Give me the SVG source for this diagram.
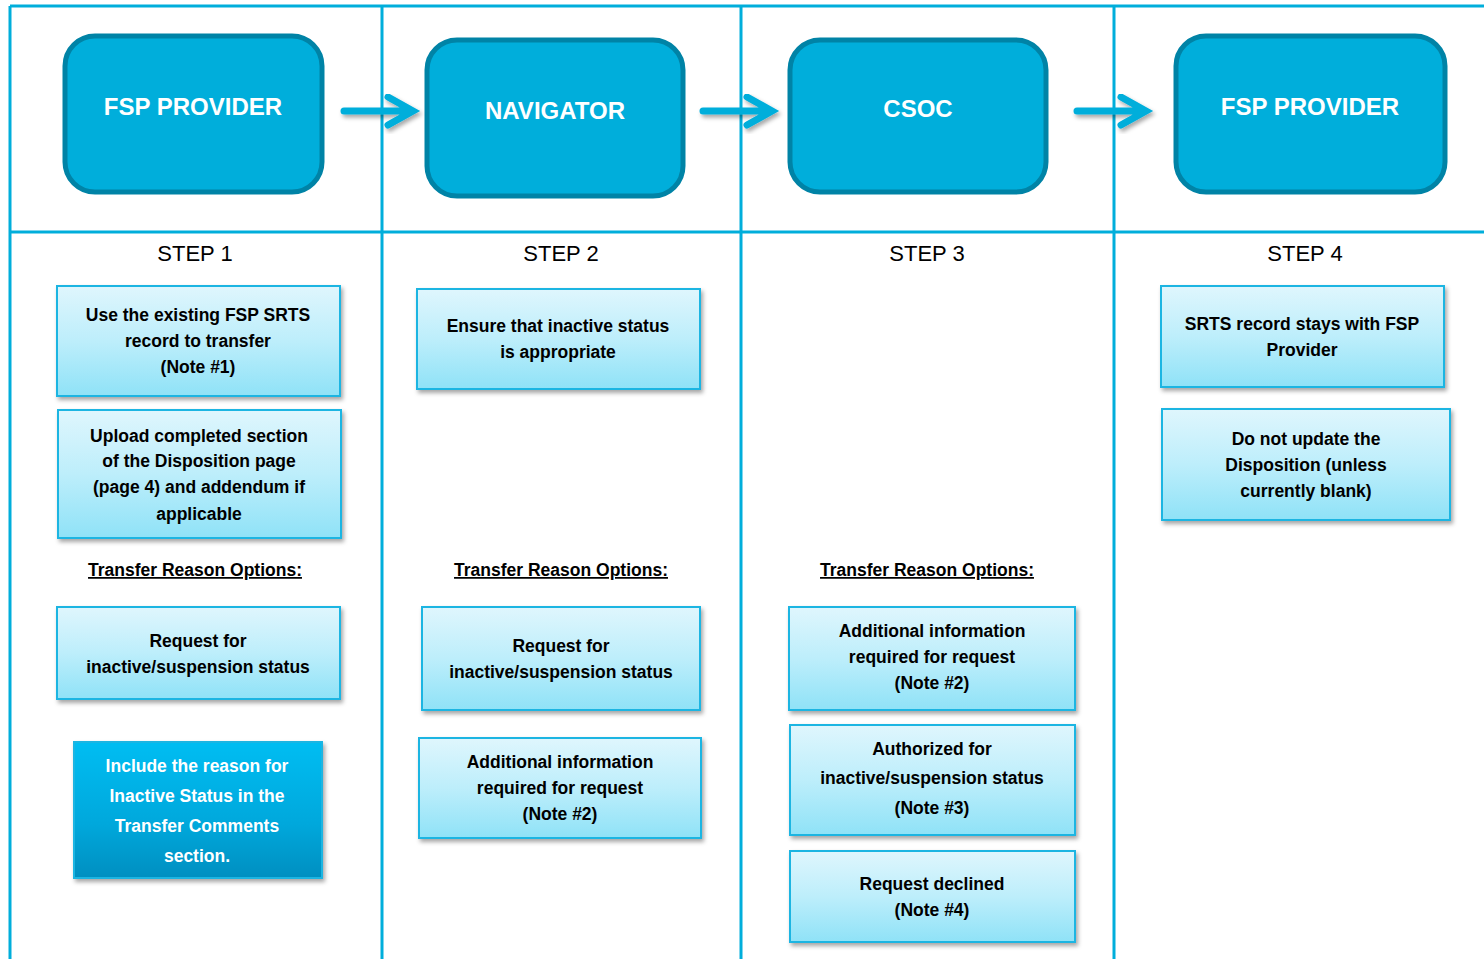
<svg xmlns="http://www.w3.org/2000/svg" width="1484" height="959" viewBox="0 0 1484 959">
<style>
.grid{stroke:#00AEDB;stroke-width:3;fill:none}
.big{fill:#00AEDB;stroke:#0083A6;stroke-width:5}
.bigt{font-family:"Liberation Sans",Arial,sans-serif;font-weight:bold;font-size:24px;fill:#fff;text-anchor:middle}
.step{font-family:"Liberation Sans",Arial,sans-serif;font-size:22px;fill:#000;text-anchor:middle}
.lb{fill:url(#lg);stroke:#1FB5E2;stroke-width:2;filter:url(#sh)}
.db{fill:url(#dg);stroke:#1FB5E2;stroke-width:2;filter:url(#sh)}
.t{font-family:"Liberation Sans",Arial,sans-serif;font-weight:bold;font-size:17.5px;fill:#000;text-anchor:middle}
.tw{font-family:"Liberation Sans",Arial,sans-serif;font-weight:bold;font-size:17.5px;fill:#fff;text-anchor:middle}
.u{text-decoration:underline}
.arr{fill:none;stroke:#00AEDB;stroke-width:7;stroke-linecap:round;stroke-linejoin:miter;filter:url(#sh)}
</style>
<defs>
<linearGradient id="lg" x1="0" y1="0" x2="0" y2="1">
<stop offset="0" stop-color="#DFF6FD"/>
<stop offset="0.5" stop-color="#BDEEFB"/>
<stop offset="1" stop-color="#8FE2F7"/>
</linearGradient>
<linearGradient id="dg" x1="0" y1="0" x2="0" y2="1">
<stop offset="0" stop-color="#00BDF2"/>
<stop offset="0.6" stop-color="#00A8DC"/>
<stop offset="1" stop-color="#008FC0"/>
</linearGradient>
<filter id="sh" x="-10%" y="-10%" width="130%" height="140%">
<feDropShadow dx="2" dy="3" stdDeviation="2" flood-color="#000" flood-opacity="0.35"/>
</filter>
</defs>
<rect width="1484" height="959" fill="#fff"/>
<g id="grid">
<line class="grid" x1="10" y1="6" x2="1484" y2="6"/>
<line class="grid" x1="10" y1="6" x2="10" y2="959"/>
<line class="grid" x1="10" y1="232" x2="1484" y2="232"/>
<line class="grid" x1="382" y1="6" x2="382" y2="959"/>
<line class="grid" x1="741" y1="6" x2="741" y2="959"/>
<line class="grid" x1="1114" y1="6" x2="1114" y2="959"/>
</g>
<g id="n1"><rect class="big" x="65" y="36" width="257" height="156" rx="30"/><text class="bigt" x="193" y="115">FSP PROVIDER</text></g>
<g id="n2"><rect class="big" x="427" y="40" width="256" height="156" rx="30"/><text class="bigt" x="555" y="119">NAVIGATOR</text></g>
<g id="n3"><rect class="big" x="790" y="40" width="256" height="152" rx="30"/><text class="bigt" x="918" y="117">CSOC</text></g>
<g id="n4"><rect class="big" x="1176" y="36" width="269" height="156" rx="30"/><text class="bigt" x="1310" y="115">FSP PROVIDER</text></g>
<g id="connectors">
<path class="arr" d="M344 111 H410 M388 97 L413 111 L388 125"/>
<path class="arr" d="M703 111 H769 M747 97 L772 111 L747 125"/>
<path class="arr" d="M1077 111 H1143 M1121 97 L1146 111 L1121 125"/>
</g>
<g id="steps">
<text class="step" x="195" y="261">STEP 1</text>
<text class="step" x="561" y="261">STEP 2</text>
<text class="step" x="927" y="261">STEP 3</text>
<text class="step" x="1305" y="261">STEP 4</text>
</g>
<g id="s1a"><rect class="lb" x="57" y="286" width="283" height="110"/>
<text class="t" x="198" y="321">Use the existing FSP SRTS</text><text class="t" x="198" y="347">record to transfer</text><text class="t" x="198" y="373">(Note #1)</text></g>
<g id="s1b"><rect class="lb" x="58" y="410" width="283" height="128"/>
<text class="t" x="199" y="442">Upload completed section</text><text class="t" x="199" y="467">of the Disposition page</text><text class="t" x="199" y="493">(page 4) and addendum if</text><text class="t" x="199" y="520">applicable</text></g>
<g id="s1h"><text class="t u" x="195" y="576">Transfer Reason Options:</text></g>
<g id="s1c"><rect class="lb" x="57" y="607" width="283" height="92"/>
<text class="t" x="198" y="647">Request for</text><text class="t" x="198" y="673">inactive/suspension status</text></g>
<g id="s1d"><rect class="db" x="74" y="742" width="248" height="136"/>
<text class="tw" x="197" y="772">Include the reason for</text><text class="tw" x="197" y="802">Inactive Status in the</text><text class="tw" x="197" y="832">Transfer Comments</text><text class="tw" x="197" y="862">section.</text></g>
<g id="s2a"><rect class="lb" x="417" y="289" width="283" height="100"/>
<text class="t" x="558" y="332">Ensure that inactive status</text><text class="t" x="558" y="358">is appropriate</text></g>
<g id="s2h"><text class="t u" x="561" y="576">Transfer Reason Options:</text></g>
<g id="s2b"><rect class="lb" x="422" y="607" width="278" height="103"/>
<text class="t" x="561" y="652">Request for</text><text class="t" x="561" y="678">inactive/suspension status</text></g>
<g id="s2c"><rect class="lb" x="419" y="738" width="282" height="100"/>
<text class="t" x="560" y="768">Additional information</text><text class="t" x="560" y="794">required for request</text><text class="t" x="560" y="820">(Note #2)</text></g>
<g id="s3h"><text class="t u" x="927" y="576">Transfer Reason Options:</text></g>
<g id="s3a"><rect class="lb" x="789" y="607" width="286" height="103"/>
<text class="t" x="932" y="637">Additional information</text><text class="t" x="932" y="663">required for request</text><text class="t" x="932" y="689">(Note #2)</text></g>
<g id="s3b"><rect class="lb" x="790" y="725" width="285" height="110"/>
<text class="t" x="932" y="755">Authorized for</text><text class="t" x="932" y="784">inactive/suspension status</text><text class="t" x="932" y="814">(Note #3)</text></g>
<g id="s3c"><rect class="lb" x="790" y="851" width="285" height="91"/>
<text class="t" x="932" y="890">Request declined</text><text class="t" x="932" y="916">(Note #4)</text></g>
<g id="s4a"><rect class="lb" x="1161" y="286" width="283" height="101"/>
<text class="t" x="1302" y="330">SRTS record stays with FSP</text><text class="t" x="1302" y="356">Provider</text></g>
<g id="s4b"><rect class="lb" x="1162" y="409" width="288" height="111"/>
<text class="t" x="1306" y="445">Do not update the</text><text class="t" x="1306" y="471">Disposition (unless</text><text class="t" x="1306" y="497">currently blank)</text></g>
</svg>
